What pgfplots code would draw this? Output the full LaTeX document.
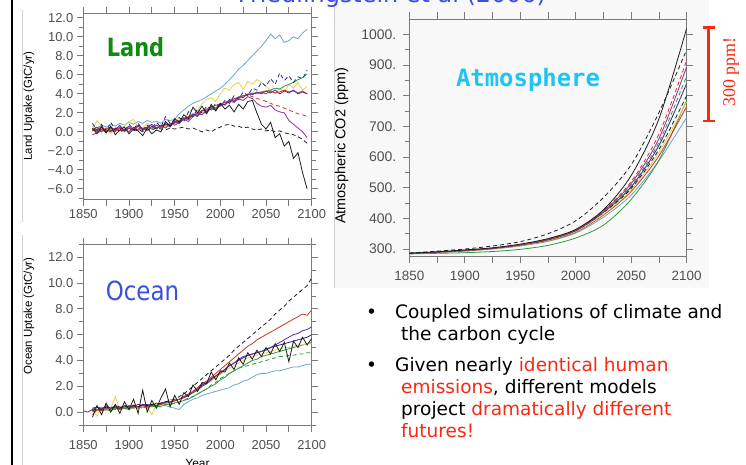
\documentclass[border=0pt]{standalone}
\usepackage{pgfplots}
\pgfplotsset{compat=1.18}
\usepackage{pgfplotstable}
\usepackage{fontspec}
\setmainfont{Liberation Sans}
\newfontfamily\comic{DejaVu Sans}
\newfontfamily\mono{DejaVu Sans Mono}
\newfontfamily\serifx{Liberation Serif}

\definecolor{axgray}{HTML}{7A7A7A}
\definecolor{labgray}{HTML}{505050}
\definecolor{lblue}{HTML}{6EA6CF}
\definecolor{cyel}{HTML}{E4D24A}
\definecolor{cgreen}{HTML}{2E9A3E}
\definecolor{cred}{HTML}{D8302A}
\definecolor{cpurple}{HTML}{9B2F8F}
\definecolor{cblack}{HTML}{1E1E1E}
\definecolor{cnavy}{HTML}{2A2A8A}
\definecolor{cindigo}{HTML}{5A2A9A}
\definecolor{landgreen}{HTML}{108A10}
\definecolor{oceanblue}{HTML}{3A4FE0}
\definecolor{atmcyan}{HTML}{1EC4F2}
\definecolor{txtred}{HTML}{F52A12}
\definecolor{imgbg}{HTML}{F8F8F8}

\pgfplotstableread{
yr   lb   ye   gr   rd   pu   bk   bd   nd   rs   nv
1860 0.6  0.3  0.2  0.1  -0.3 0.4  0.2  0.9  0.1  0.3
1865 0.4  1.2  0.0  0.3  -0.1 -0.2 0.5  0.2  0.5  0.1
1870 0.7  0.6  0.3  0.2  0.1  0.5  0.0  0.8  0.0  0.6
1875 0.5  0.2  -0.1 0.0  0.2  -0.1 0.3  0.0  0.4  0.0
1880 0.8  -0.2 0.4  0.3  0.0  0.6  0.1  1.0  0.2  0.5
1885 0.6  0.4  0.1  0.1  0.4  -0.3 0.4  0.3  0.0  0.2
1890 0.9  0.3  0.5  0.4  0.1  0.2  0.0  0.6  0.5  0.7
1895 0.7  0.6  0.0  0.2  0.3  0.5  0.2  0.1  0.1  0.1
1900 1.0  1.1  0.4  0.3  0.0  -0.2 0.4  0.8  0.4  0.6
1905 0.8  1.3  0.2  0.4  0.5  0.3  0.1  0.3  0.2  0.2
1910 1.1  0.5  0.6  0.3  0.2  0.1  0.3  0.9  0.6  0.7
1915 0.9  0.4  0.1  0.5  0.4  -0.4 0.0  0.2  0.3  0.3
1920 1.2  0.9  0.5  0.4  0.1  0.4  0.3  0.7  0.5  0.5
1925 1.0  0.6  0.3  0.6  0.6  -0.2 0.2  0.4  0.4  0.8
1930 1.1  0.3  0.7  0.5  0.3  0.2  0.4  1.0  0.7  0.4
1935 0.9  0.7  0.4  0.6  0.7  0.0  0.3  0.5  0.5  0.6
1940 1.3  0.5  0.8  0.7  0.4  1.1  0.2  1.6  0.8  0.9
1945 1.2  0.8  0.6  0.8  0.9  0.6  0.4  0.9  0.7  0.5
1950 1.3  1.0  1.0  0.9  0.7  1.4  0.3  1.2  1.0  1.1
1955 1.9  1.5  0.9  1.1  1.0  1.0  0.4  1.5  1.2  0.9
1960 2.3  1.2  1.4  1.3  1.3  1.8  0.5  1.1  1.4  1.5
1965 2.7  2.0  1.3  1.5  1.1  1.4  0.3  2.1  1.6  1.3
1970 3.0  2.4  1.8  1.7  1.6  2.6  0.4  1.6  1.8  1.9
1975 3.2  2.2  1.6  1.9  1.9  2.0  0.2  2.4  2.0  1.7
1980 3.4  3.0  2.1  2.1  1.8  2.7  0.0  2.0  2.2  2.3
1985 3.7  3.4  2.0  2.3  2.2  1.9  0.2  2.7  2.4  2.1
1990 4.0  3.6  2.5  2.5  2.4  2.9  0.0  2.3  2.6  2.7
1995 4.3  3.2  2.4  2.7  2.3  2.2  0.3  3.0  2.8  2.5
2000 4.6  4.0  2.8  2.9  2.8  3.0  0.5  2.7  2.9  3.0
2005 5.0  4.6  2.9  3.1  2.9  2.4  0.7  3.3  3.1  2.8
2010 5.5  4.4  3.2  3.2  3.2  2.8  0.8  3.0  3.3  3.4
2015 6.0  5.0  3.3  3.4  3.1  2.1  0.6  3.8  3.5  3.2
2020 6.6  5.2  3.6  3.6  3.5  2.9  0.6  3.4  3.6  3.7
2025 7.0  4.5  3.8  3.8  3.3  2.4  0.4  4.2  3.8  3.6
2030 7.5  5.3  3.9  3.9  3.7  3.2  0.5  3.8  3.9  4.0
2035 8.0  5.0  4.1  3.7  3.5  3.3  0.3  4.6  4.0  3.9
2040 8.5  5.5  4.0  3.5  3.0  2.0  0.2  4.4  4.1  4.2
2045 9.0  5.2  4.2  3.4  2.7  0.8  0.3  5.2  4.2  4.0
2050 9.6  4.8  4.3  3.2  2.6  0.3  0.1  4.8  4.0  4.3
2055 10.3 4.4  4.4  3.0  2.8  1.0  0.2  5.6  4.3  4.1
2060 9.8  4.0  4.6  2.8  2.3  -0.6 0.0  5.0  4.1  4.4
2065 10.2 4.6  4.5  2.7  2.1  -0.2 0.1  6.2  4.2  4.0
2070 9.4  4.2  4.8  2.5  2.0  -1.5 -0.1 5.4  4.4  4.3
2075 9.6  5.0  5.0  2.3  1.2  -1.0 -0.2 5.9  4.2  4.1
2080 10.0 4.6  5.2  2.1  0.8  -2.8 -0.3 5.2  4.3  4.4
2085 9.8  5.2  5.5  1.9  0.4  -2.2 -0.5 5.8  4.1  4.0
2090 10.4 4.4  5.7  1.8  0.0  -4.3 -0.8 5.6  4.3  4.2
2095 10.8 4.8  6.1  1.6  -0.6 -6.0 -1.2 6.5  4.0  4.0
}\landtab

\pgfplotstableread{
yr   bd   rs   pu   bk   ye   gr   gd   lb   nv
1850 nan  nan  0.1  nan  nan  nan  nan  nan  nan
1855 nan  nan  0.0  nan  nan  nan  nan  nan  nan
1860 0.1  -0.2 0.2  -0.4 0.3  0.0  0.1  0.2  0.3
1865 0.3  0.2  0.4  0.5  -0.3 0.2  0.0  0.1  0.4
1870 0.2  0.1  0.3  -0.2 0.4  0.1  0.2  0.3  0.2
1875 0.4  0.3  0.4  0.7  0.1  0.2  0.1  0.2  0.5
1880 0.3  0.2  0.3  0.0  0.3  0.1  0.3  0.3  0.3
1885 0.4  0.4  0.5  0.6  1.2  0.3  0.2  0.2  0.4
1890 0.3  0.2  0.4  -0.1 0.2  0.2  0.3  0.4  0.3
1895 0.5  0.4  0.4  0.8  0.4  0.3  0.2  0.3  0.5
1900 0.4  0.3  0.5  0.2  0.3  0.2  0.4  0.3  0.4
1905 0.5  0.5  0.4  1.0  0.6  0.4  0.3  0.4  0.5
1910 0.4  0.4  0.6  -0.1 0.3  0.3  0.4  0.3  0.4
1915 0.6  0.5  0.5  1.7  0.5  0.4  0.3  0.5  0.6
1920 0.5  0.4  0.6  0.0  0.4  0.3  0.5  0.4  0.5
1925 0.6  0.6  0.5  0.9  -0.2 0.5  0.4  0.5  0.6
1930 0.6  0.5  0.7  0.3  0.6  0.4  0.5  0.4  0.5
1935 0.7  0.6  0.6  1.1  0.5  0.5  0.4  0.5  0.7
1940 0.8  0.7  0.8  1.8  0.7  0.6  0.6  0.5  0.8
1945 0.9  0.8  0.8  0.4  1.0  0.6  0.6  0.4  0.7
1950 1.0  0.9  0.9  1.3  0.8  0.7  0.7  0.3  0.9
1955 1.2  1.0  1.0  0.6  1.0  0.8  0.8  0.2  1.0
1960 1.4  1.2  1.1  1.5  1.2  0.9  0.9  0.6  1.2
1965 1.7  1.4  1.3  1.2  1.3  1.0  1.1  0.8  1.3
1970 2.0  1.6  1.5  2.1  1.5  1.2  1.2  1.0  1.6
1975 2.3  1.9  1.7  1.6  1.7  1.4  1.4  1.1  1.8
1980 2.6  2.2  2.0  2.3  2.0  1.6  1.6  1.3  2.1
1985 2.9  2.4  2.2  2.2  2.2  1.8  1.8  1.4  2.3
1990 3.2  2.7  2.5  3.1  2.4  2.0  2.1  1.5  2.6
1995 3.5  3.0  2.8  2.5  2.7  2.2  2.3  1.6  2.8
2000 3.8  3.3  3.0  3.2  2.9  2.5  2.6  1.7  3.1
2005 4.1  3.6  3.3  3.1  3.2  2.7  2.8  1.8  3.3
2010 4.4  3.9  3.6  3.8  3.4  3.0  3.0  1.9  3.6
2015 4.8  4.2  3.8  3.3  3.6  3.2  3.2  2.1  3.8
2020 5.1  4.5  4.1  4.2  3.8  3.4  3.4  2.2  4.0
2025 5.4  4.8  4.3  3.7  4.0  3.6  3.5  2.4  4.2
2030 5.7  5.1  4.4  4.6  4.2  3.8  3.6  2.5  4.4
2035 6.0  5.3  4.5  4.1  4.3  4.0  3.7  2.7  4.5
2040 6.3  5.6  4.6  4.8  4.4  4.1  3.8  2.9  4.6
2045 6.6  5.8  4.7  4.3  4.5  4.3  3.9  3.0  4.7
2050 6.9  6.0  4.8  5.0  4.6  4.4  4.0  3.0  4.9
2055 7.2  6.2  5.0  4.5  4.7  4.5  4.1  3.1  5.0
2060 7.6  6.4  5.2  5.3  4.8  4.6  4.2  3.2  5.1
2065 7.9  6.6  5.4  4.7  4.9  4.7  4.3  3.2  5.2
2070 8.2  6.8  5.6  5.4  5.0  4.8  4.3  3.3  5.3
2075 8.6  7.0  5.8  3.9  5.0  4.9  4.4  3.4  5.4
2080 8.9  7.2  6.0  5.5  5.1  5.0  4.4  3.5  5.5
2085 9.2  7.4  6.1  5.0  5.2  5.1  4.5  3.5  5.6
2090 9.5  7.6  6.3  5.8  5.2  5.2  4.5  3.6  5.7
2095 9.8  7.5  6.4  5.2  5.3  5.3  4.6  3.7  5.8
2100 10.4 7.9  6.6  5.7  5.3  5.4  4.6  3.7  6.0
}\oceantab

\pgfplotstableread{
yr   bk   bda  rd   pu   gd   nv   bdb  ye   rs   lb   gr
1850 286  287  286  286  286  286  286  285  285  285  284
1875 291  293  291  290  290  290  290  289  289  289  286
1900 297  300  296  296  296  295  295  294  294  293  288
1925 304  310  303  303  303  302  302  301  301  300  292
1950 316  324  315  314  314  313  313  311  311  310  299
1975 334  350  333  332  331  330  330  328  327  325  312
2000 364  392  363  362  361  360  360  357  355  352  336
2025 428  468  426  424  422  420  419  414  411  404  378
2050 540  575  520  514  508  503  498  494  488  476  462
2075 725  745  675  660  648  638  625  615  604  588  590
2100 1020 950  915  895  865  840  800  780  765  730  785
}\atmtab

\pgfplotsset{
  ncl/.style={
    scale only axis,
    axis line style={draw=axgray, line width=0.8bp},
    every tick/.style={draw=axgray, line width=0.8bp},
    tick align=outside,
    major tick length=6.5bp,
    minor tick length=4bp,
    xmin=1850, xmax=2100,
    xtick={1850,1875,...,2100},
    xticklabels={1850,,1900,,1950,,2000,,2050,,2100},
    x tick label style={font=\fontsize{13}{13}\selectfont, text=labgray},
    y tick label style={font=\fontsize{13}{13}\selectfont, text=labgray},
    every axis plot/.append style={line width=0.8bp, no markers},
    clip=true,
  },
  dsh/.style={dash pattern=on 4bp off 3bp},
}

\begin{document}
\begin{tikzpicture}
\useasboundingbox (0,0) rectangle (746bp,-465bp);
\clip (0,0) rectangle (746bp,-465bp);
\fill[white] (0,0) rectangle (746bp,-465bp);
\fill[imgbg] (334bp,0) rectangle (709bp,-288bp);

% frames
\draw[black, line width=2.5bp] (12bp,0) -- (12bp,-465bp);
\draw[gray!35, line width=0.8bp] (22bp,-10bp) -- (22bp,-222bp);
\draw[gray!35, line width=0.8bp] (22bp,-235bp) -- (22bp,-465bp);
\draw[gray!35, line width=0.8bp] (334bp,0) -- (334bp,-288bp);

% title (cut off at top, as in the slide)
\node[anchor=base, text=oceanblue, inner sep=0] at (392bp,-2.5bp)
  {\comic\fontsize{24}{24}\selectfont Friedlingstein et al (2006)};

% ---------- Land ----------
\begin{axis}[ncl,
  at={(83.3bp,-199.3bp)}, anchor=south west,
  width=228.4bp, height=186.2bp,
  ymin=-7.1, ymax=12.5,
  ytick={-6,-4,...,12},
  yticklabels={−6.0,−4.0,−2.0,0.0,2.0,4.0,6.0,8.0,10.0,12.0},
  minor ytick={-7,-5,...,11},
  ylabel={Land Uptake (GtC/yr)},
  ylabel style={at={(axis description cs:-0.2377,0.501)}, anchor=center,
    font=\fontsize{11.5}{11.5}\selectfont},
]
\addplot[lblue] table[x=yr,y=lb]{\landtab};
\addplot[cyel] table[x=yr,y=ye]{\landtab};
\addplot[cgreen] table[x=yr,y=gr]{\landtab};
\addplot[cred,dsh] table[x=yr,y=rd]{\landtab};
\addplot[cpurple] table[x=yr,y=pu]{\landtab};
\addplot[cblack,dsh] table[x=yr,y=bd]{\landtab};
\addplot[cnavy,dsh] table[x=yr,y=nd]{\landtab};
\addplot[cred] table[x=yr,y=rs]{\landtab};
\addplot[cindigo] table[x=yr,y=nv]{\landtab};
\addplot[cblack] table[x=yr,y=bk]{\landtab};
\end{axis}

% ---------- Ocean ----------
\begin{axis}[ncl,
  at={(83.3bp,-425bp)}, anchor=south west,
  width=228.4bp, height=180.7bp,
  ymin=-1, ymax=13,
  ytick={0,2,...,12},
  yticklabels={0.0,2.0,4.0,6.0,8.0,10.0,12.0},
  minor ytick={-1,1,...,13},
  x tick label style={yshift=-5bp},
  ylabel={Ocean Uptake (GtC/yr)},
  ylabel style={at={(axis description cs:-0.2377,0.603)}, anchor=center,
    font=\fontsize{11.5}{11.5}\selectfont},
  xlabel={Year},
  xlabel style={at={(axis description cs:0.5,-0.214)}, anchor=center,
    font=\fontsize{12}{12}\selectfont},
]
\addplot[lblue] table[x=yr,y=lb]{\oceantab};
\addplot[cgreen,dsh] table[x=yr,y=gd]{\oceantab};
\addplot[cgreen] table[x=yr,y=gr]{\oceantab};
\addplot[cyel] table[x=yr,y=ye]{\oceantab};
\addplot[cnavy] table[x=yr,y=nv]{\oceantab};
\addplot[cindigo] table[x=yr,y=pu]{\oceantab};
\addplot[cred] table[x=yr,y=rs]{\oceantab};
\addplot[cblack,dsh] table[x=yr,y=bd]{\oceantab};
\addplot[cblack] table[x=yr,y=bk]{\oceantab};
\end{axis}

% ---------- Atmosphere ----------
\begin{axis}[ncl,
  at={(409.3bp,-256.7bp)}, anchor=south west,
  width=277.4bp, height=237.7bp,
  ymin=275, ymax=1050,
  ytick={300,400,...,1000},
  yticklabels={300.,400.,500.,600.,700.,800.,900.,1000.},
  minor ytick={350,450,...,950},
  ylabel={Atmospheric CO2 (ppm)},
  ylabel style={at={(axis description cs:-0.2437,0.466)}, anchor=center,
    font=\fontsize{14.5}{14.5}\selectfont},
  x tick label style={font=\fontsize{13.5}{13.5}\selectfont, yshift=-4bp},
  y tick label style={font=\fontsize{14}{14}\selectfont, xshift=-3bp},
]
\addplot[lblue,smooth] table[x=yr,y=lb]{\atmtab};
\addplot[cgreen,smooth] table[x=yr,y=gr]{\atmtab};
\addplot[cred,smooth] table[x=yr,y=rs]{\atmtab};
\addplot[cyel,smooth] table[x=yr,y=ye]{\atmtab};
\addplot[cblack,dsh,smooth] table[x=yr,y=bdb]{\atmtab};
\addplot[cnavy,smooth] table[x=yr,y=nv]{\atmtab};
\addplot[cgreen,dsh,smooth] table[x=yr,y=gd]{\atmtab};
\addplot[cpurple,smooth] table[x=yr,y=pu]{\atmtab};
\addplot[cred,dsh,smooth] table[x=yr,y=rd]{\atmtab};
\addplot[cblack,dsh,smooth] table[x=yr,y=bda]{\atmtab};
\addplot[cblack,smooth] table[x=yr,y=bk]{\atmtab};
\end{axis}

% panel titles
\node[text=landgreen, yscale=1.2] at (135.5bp,-47bp)
  {\comic\bfseries\fontsize{21}{21}\selectfont Land};
\node[text=oceanblue, yscale=1.15] at (142.5bp,-291bp)
  {\comic\fontsize{23}{23}\selectfont Ocean};
\node[text=atmcyan] at (528bp,-80bp)
  {\mono\bfseries\fontsize{24}{24}\selectfont Atmosphere};

% 300 ppm bar
\draw[txtred, line width=3bp] (708.3bp,-27.7bp) -- (708.3bp,-121bp);
\draw[txtred, line width=2.5bp] (703bp,-27.7bp) -- (715bp,-27.7bp);
\draw[txtred, line width=2.5bp] (703bp,-121bp) -- (715bp,-121bp);
\node[text=txtred, rotate=90] at (731bp,-72bp)
  {\serifx\fontsize{18}{18}\selectfont 300 ppm!};

% bullets
\begin{scope}[every node/.style={anchor=base west, inner sep=0}]
\def\bfnt{\comic\fontsize{18.6}{18.6}\selectfont}
\node at (366bp,-318bp) {\bfnt •};
\node at (395bp,-318bp) {\bfnt Coupled simulations of climate and};
\node at (401bp,-340bp) {\bfnt the carbon cycle};
\node at (366bp,-371bp) {\bfnt •};
\node at (395bp,-371bp) {\bfnt Given nearly \textcolor{txtred}{identical human}};
\node at (401bp,-393bp) {\bfnt \textcolor{txtred}{emissions}, different models};
\node at (401bp,-415bp) {\bfnt project \textcolor{txtred}{dramatically different}};
\node at (401bp,-437bp) {\bfnt \textcolor{txtred}{futures!}};
\end{scope}
\end{tikzpicture}
\end{document}
